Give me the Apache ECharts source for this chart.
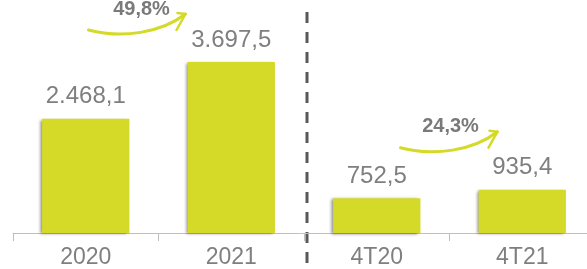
<!DOCTYPE html>
<html>
<head>
<meta charset="utf-8">
<script src="https://cdn.jsdelivr.net/npm/echarts@6/dist/echarts.min.js"></script>
<style>
html,body{margin:0;padding:0;background:#fff;}
#c{width:587px;height:269px;}
</style>
</head>
<body>
<div id="c"></div>
<script>
// ---- data ----
const categories = ['2020', '2021', '4T20', '4T21'];
const values = [2468.1, 3697.5, 752.5, 935.4];
const valueLabels = ['2.468,1', '3.697,5', '752,5', '935,4'];
const growthLabels = ['49,8%', '24,3%'];
const growthPairs = [[0, 1], [2, 3]];

// ---- style ----
const BAR = '#d4da27';
const GRAY = '#7f7f7f';
const FONT = 'Liberation Sans, Arial, sans-serif';

const chart = echarts.init(document.getElementById('c'), null, {renderer: 'canvas'});
chart.setOption({
  animation: false,
  grid: {left: 13, right: -8, top: 48, bottom: 36, containLabel: false, outerBoundsMode: 'none'},
  xAxis: {
    type: 'category',
    data: categories,
    boundaryGap: true,
    axisLine: {lineStyle: {color: '#bfbfbf', width: 1}},
    axisTick: {show: true, length: 8, lineStyle: {color: '#bfbfbf'}},
    axisLabel: {color: GRAY, fontSize: 23, fontFamily: FONT, margin: 13}
  },
  yAxis: {type: 'value', min: 0, max: 4000, show: false, splitLine: {show: false}},
  series: [{
    type: 'bar',
    data: values,
    barWidth: '60%',
    itemStyle: {
      color: BAR,
      shadowColor: 'rgba(0,0,0,0.45)',
      shadowBlur: 3,
      shadowOffsetX: -2,
      shadowOffsetY: 1
    },
    label: {
      show: true,
      position: 'top',
      distance: 10,
      color: GRAY,
      fontSize: 24,
      fontFamily: FONT,
      formatter: p => valueLabels[p.dataIndex]
    }
  }]
});

// ---- annotations (placed via the chart's own scales) ----
function px(i, v) { return chart.convertToPixel({gridIndex: 0}, [i, v]); }
// per-annotation layout offsets relative to midpoint between the two categories / top of second bar
const arrowLayout = [
  {sx: -70, sy: -32, ex: 27, ey: -48, tx: -17, ty: -53, sag: 9},
  {sx: -49, sy: -42, ex: 48, ey: -58, tx: 1, ty: -63, sag: 9}
];
const graphics = [];
growthPairs.forEach((pair, k) => {
  const a = px(pair[0], values[pair[0]]);
  const b = px(pair[1], values[pair[1]]);
  const mid = (a[0] + b[0]) / 2;
  const top = b[1];
  const L = arrowLayout[k];
  const x1 = mid + L.sx, y1 = top + L.sy, x2 = mid + L.ex, y2 = top + L.ey;
  graphics.push({
    type: 'bezierCurve',
    shape: {x1: x1, y1: y1, x2: x2, y2: y2,
      cpx1: x1 + (x2 - x1) * 0.35, cpy1: y1 + L.sag,
      cpx2: x1 + (x2 - x1) * 0.75, cpy2: y1 + L.sag * 0.3},
    style: {stroke: BAR, lineWidth: 3, fill: null, lineCap: 'round'}
  });
  graphics.push({
    type: 'polyline',
    shape: {points: [[x2 - 8, y2 - 1], [x2, y2], [x2 - 9, y2 + 16]]},
    style: {stroke: BAR, lineWidth: 2.5, fill: null, lineCap: 'round', lineJoin: 'round'}
  });
  graphics.push({
    type: 'text',
    x: mid + L.tx, y: top + L.ty,
    style: {text: growthLabels[k], fill: '#7a7a7a', fontSize: 20, fontWeight: 'bold',
      fontFamily: FONT, textAlign: 'center', textVerticalAlign: 'middle'}
  });
});
// dashed separator between annual and quarterly groups
const sepX = (px(1, 0)[0] + px(2, 0)[0]) / 2 + 3;
graphics.push({
  type: 'line',
  shape: {x1: sepX, y1: 12, x2: sepX, y2: 269},
  style: {stroke: '#595959', lineWidth: 3, lineDash: [11, 9]}
});
chart.setOption({graphic: graphics});
</script>
</body>
</html>
